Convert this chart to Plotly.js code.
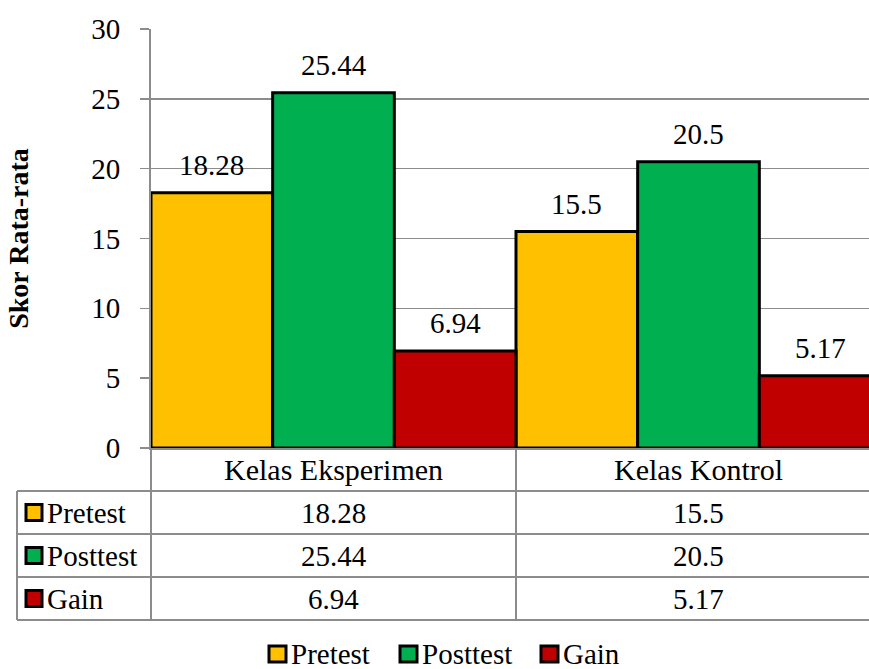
<!DOCTYPE html>
<html><head><meta charset="utf-8">
<script src="https://cdn.plot.ly/plotly-3.0.1.min.js"></script>
<style>html,body{margin:0;padding:0;background:#fff}</style>
</head><body><div id="chart" style="width:869px;height:669px"></div>
<script>
const categories = ["Kelas Eksperimen", "Kelas Kontrol"];
const seriesNames = ["Pretest", "Posttest", "Gain"];
const pretest = [18.28, 15.5];
const posttest = [25.44, 20.5];
const gain = [6.94, 5.17];
const colors = ["#FFC000", "#00B050", "#C00000"];
const yTicks = [0, 5, 10, 15, 20, 25, 30];
const yTitle = "Skor Rata-rata";

const W = 869, H = 669, L = 151, R = 0, T = 29, BOT = 448;
const plotW = W - L - R, plotH = BOT - T;
const FONT = "Liberation Serif, Times New Roman, serif";
const GRAY = "#8c8c8c";
const series = [pretest, posttest, gain];
const xs = categories.map((c, i) => i);
const px2x = p => (p - L) / plotW;
const px2y = p => (BOT - p) / plotH;
const txt = {family: FONT, size: 29, color: '#000'};
const catFont = {family: FONT, size: 30, color: '#000'};

const traces = series.map((vals, k) => ({
  type: 'bar', x: xs, y: vals, name: seriesNames[k],
  marker: {color: colors[k], line: {color: '#000', width: 3}},
  hoverinfo: 'skip', showlegend: false
}));

const annotations = [];
// value labels above the bars
series.forEach((vals, k) => vals.forEach((v, i) => {
  annotations.push({x: i + (k - 1) / 3, y: v, xref: 'x', yref: 'y', text: String(v),
    showarrow: false, yanchor: 'middle', yshift: 28, font: txt});
}));
// data table under the plot
const rowLines = [448, 491, 534, 577, 620];
categories.forEach((c, i) => {
  annotations.push({x: i, y: px2y((rowLines[0] + rowLines[1]) / 2), xref: 'x', yref: 'paper',
    text: c, showarrow: false, yanchor: 'middle', font: catFont});
});
const shapes = [];
series.forEach((vals, k) => {
  const ycp = (rowLines[k + 1] + rowLines[k + 2]) / 2;
  const yc = px2y(ycp);
  vals.forEach((v, i) => annotations.push({x: i, y: yc, xref: 'x', yref: 'paper', text: String(v),
    showarrow: false, yanchor: 'middle', font: txt}));
  annotations.push({x: px2x(45), y: yc, xref: 'paper', yref: 'paper', xanchor: 'left',
    yanchor: 'middle', text: seriesNames[k], showarrow: false, font: txt});
  shapes.push({type: 'rect', xref: 'paper', yref: 'paper', x0: px2x(26), x1: px2x(42),
    y0: px2y(ycp - 8), y1: px2y(ycp + 8), fillcolor: colors[k], line: {color: '#000', width: 3}});
});

// legend below the table
const legKeyX = [269, 400, 541];
const legY = 654;
seriesNames.forEach((n, k) => {
  shapes.push({type: 'rect', xref: 'paper', yref: 'paper', x0: px2x(legKeyX[k]), x1: px2x(legKeyX[k] + 17),
    y0: px2y(legY - 8), y1: px2y(legY + 8), fillcolor: colors[k], line: {color: '#000', width: 3}});
  annotations.push({x: px2x(legKeyX[k] + 21), y: px2y(legY), xref: 'paper', yref: 'paper',
    xanchor: 'left', yanchor: 'middle', text: n, showarrow: false, font: txt, borderpad: 0});
});

const ln = {color: GRAY, width: 2};
rowLines.slice(1).forEach(py => shapes.push({type: 'line', xref: 'paper', yref: 'paper',
  x0: px2x(17), x1: 1, y0: px2y(py), y1: px2y(py), line: ln}));
shapes.push({type: 'line', xref: 'paper', yref: 'paper', x0: px2x(17), x1: px2x(17),
  y0: px2y(491), y1: px2y(620), line: ln});
shapes.push({type: 'line', xref: 'paper', yref: 'paper', x0: 0, x1: 0,
  y0: px2y(448), y1: px2y(620), line: ln});
shapes.push({type: 'line', xref: 'x', yref: 'paper', x0: 0.5, x1: 0.5,
  y0: px2y(448), y1: px2y(620), line: ln});

const layout = {
  width: W, height: H,
  margin: {l: L, r: R, t: T, b: H - BOT, pad: 0},
  paper_bgcolor: '#fff', plot_bgcolor: '#fff',
  barmode: 'group', bargap: 0, bargroupgap: 0,
  font: txt,
  xaxis: {range: [-0.5, 1.5 - 12 / 365], showticklabels: false, showgrid: false, zeroline: false,
    showline: true, linecolor: GRAY, linewidth: 2, ticks: '', fixedrange: true},
  yaxis: {range: [0, 30], tickvals: yTicks, showgrid: true, gridcolor: GRAY, gridwidth: 1.5,
    zeroline: false, showline: true, linecolor: GRAY, linewidth: 2,
    ticks: 'outside', ticklen: 9, tickcolor: GRAY, tickwidth: 1.5, ticklabelstandoff: 14,
    tickfont: txt,
    title: {text: yTitle, standoff: 54, font: {family: FONT, size: 28, color: '#000', weight: 'bold'}},
    automargin: false, fixedrange: true},
  showlegend: false,
  annotations: annotations, shapes: shapes
};
Plotly.newPlot('chart', traces, layout, {displayModeBar: false, staticPlot: true});
</script></body></html>
